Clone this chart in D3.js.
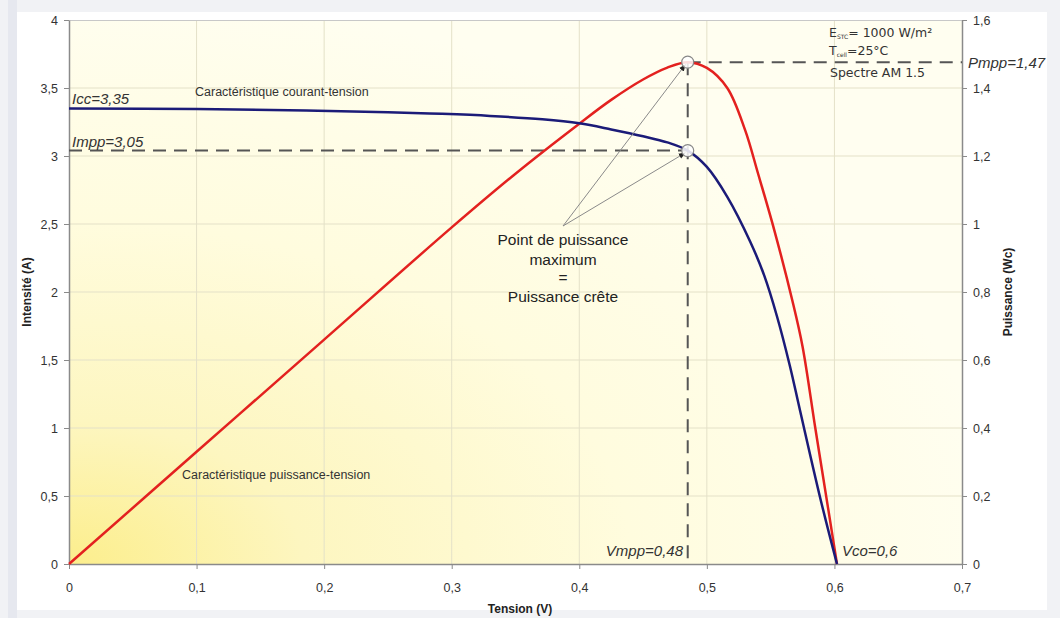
<!DOCTYPE html>
<html><head><meta charset="utf-8">
<script src="https://cdn.jsdelivr.net/npm/d3@7"></script>
<style>
html,body{margin:0;padding:0;background:#fff;}
svg{display:block;}
</style></head>
<body>
<svg id="c" width="1060" height="618"></svg>
<script>
// ---- data ----
const voltageIV = [0, 0.1, 0.186, 0.25, 0.292, 0.33, 0.371, 0.4, 0.425, 0.45, 0.469, 0.485, 0.5, 0.516, 0.534, 0.545, 0.555, 0.565, 0.573, 0.589, 0.602];
const currentIV = [3.35, 3.345, 3.335, 3.322, 3.31, 3.295, 3.27, 3.24, 3.195, 3.145, 3.10, 3.04, 2.92, 2.70, 2.37, 2.12, 1.82, 1.46, 1.13, 0.48, 0];
const voltagePV = [0, 0.1, 0.2, 0.3, 0.35, 0.4, 0.425, 0.45, 0.469, 0.485, 0.5, 0.516, 0.53, 0.54, 0.553, 0.567, 0.575, 0.585, 0.595, 0.602];
const powerPV   = [0, 0.33, 0.66, 0.99, 1.148, 1.295, 1.365, 1.425, 1.46, 1.476, 1.459, 1.40, 1.276, 1.15, 0.98, 0.775, 0.64, 0.40, 0.165, 0];
const xTicks = [0, 0.1, 0.2, 0.3, 0.4, 0.5, 0.6, 0.7];
const yTicksI = [0, 0.5, 1, 1.5, 2, 2.5, 3, 3.5, 4];
const yTicksP = [0, 0.2, 0.4, 0.6, 0.8, 1, 1.2, 1.4, 1.6];
const mppV = 0.485, mppI = 3.04, mppP = 1.476, vco = 0.602;
const labels = {icc:"Icc=3,35", impp:"Impp=3,05", pmpp:"Pmpp=1,47", vmpp:"Vmpp=0,48", vco:"Vco=0,6"};

const fmt = d => String(d).replace('.', ',');
const svg = d3.select('#c');
const X0 = 69, X1 = 962, Y0 = 564, Y1 = 20;
const x = d3.scaleLinear().domain([0, 0.7]).range([X0, X1]);
const yI = d3.scaleLinear().domain([0, 4]).range([Y0, Y1]);
const yP = d3.scaleLinear().domain([0, 1.6]).range([Y0, Y1]);
const AR = '"Liberation Sans", Arial, sans-serif';

// page frame
svg.append('rect').attr('width',1060).attr('height',618).attr('fill','#f1f2f5');
svg.append('rect').attr('x',8).attr('y',0).attr('width',9).attr('height',618).attr('fill','#e6e8ef');
svg.append('rect').attr('x',17).attr('y',12).attr('width',1030).attr('height',598).attr('fill','#ffffff');

const defs = svg.append('defs');
const rg = defs.append('radialGradient').attr('id','bg').attr('cx','0').attr('cy','1').attr('r','1.05').attr('fx','0').attr('fy','1');
rg.append('stop').attr('offset','0').attr('stop-color','#fcee8c');
rg.append('stop').attr('offset','0.25').attr('stop-color','#fdf6c0');
rg.append('stop').attr('offset','0.6').attr('stop-color','#fffcde');
rg.append('stop').attr('offset','1').attr('stop-color','#fffef0');
defs.append('marker').attr('id','arr').attr('viewBox','0 0 10 10').attr('refX',10).attr('refY',5)
  .attr('markerWidth',7).attr('markerHeight',7).attr('orient','auto')
  .append('path').attr('d','M0,1 L10,5 L0,9 z').attr('fill','#222');

svg.append('rect').attr('x',X0).attr('y',Y1).attr('width',X1-X0).attr('height',Y0-Y1).attr('fill','url(#bg)');

// grid
const g = svg.append('g');
g.selectAll('.vg').data(xTicks.slice(1,-1)).join('line')
  .attr('x1',d=>x(d)).attr('x2',d=>x(d)).attr('y1',Y1).attr('y2',Y0)
  .attr('stroke','#e4e1c8').attr('stroke-width',1);
g.selectAll('.hg').data(yTicksI.slice(1,-1)).join('line')
  .attr('x1',X0).attr('x2',X1).attr('y1',d=>yI(d)).attr('y2',d=>yI(d))
  .attr('stroke','#e4e1c8').attr('stroke-width',1);
svg.append('line').attr('x1',X0).attr('x2',X1).attr('y1',Y1+0.5).attr('y2',Y1+0.5).attr('stroke','#c8c8c8');

// axes
function styleAxis(sel){
  sel.select('.domain').attr('stroke','#8a8a8a').attr('stroke-width',1.5);
  sel.selectAll('.tick line').attr('stroke','#8a8a8a');
  sel.selectAll('.tick text').attr('fill','#333').attr('font-family',AR).attr('font-size',12.5);
}
svg.append('g').attr('transform',`translate(0,${Y0})`)
  .call(d3.axisBottom(x).tickValues(xTicks).tickFormat(fmt).tickSize(5).tickSizeOuter(0).tickPadding(14))
  .call(styleAxis);
svg.append('g').attr('transform',`translate(${X0},0)`)
  .call(d3.axisLeft(yI).tickValues(yTicksI).tickFormat(fmt).tickSize(5).tickSizeOuter(0).tickPadding(6))
  .call(styleAxis);
svg.append('g').attr('transform',`translate(${X1},0)`)
  .call(d3.axisRight(yP).tickValues(yTicksP).tickFormat(fmt).tickSize(5).tickSizeOuter(0).tickPadding(6))
  .call(styleAxis);

// axis titles
svg.append('text').attr('x',520).attr('y',613).attr('text-anchor','middle')
  .attr('font-family',AR).attr('font-weight','bold').attr('font-size',12).attr('fill','#222').text('Tension (V)');
svg.append('text').attr('transform','translate(31,292) rotate(-90)').attr('text-anchor','middle')
  .attr('font-family',AR).attr('font-weight','bold').attr('font-size',12).attr('fill','#222').text('Intensité (A)');
svg.append('text').attr('transform','translate(1012,292) rotate(-90)').attr('text-anchor','middle')
  .attr('font-family',AR).attr('font-weight','bold').attr('font-size',12).attr('fill','#222').text('Puissance (Wc)');

// dashed guides
const dash = {stroke:'#555', 'stroke-width':2, 'stroke-dasharray':'13,8'};
function dline(x1,y1,x2,y2){ const l=svg.append('line').attr('x1',x1).attr('y1',y1).attr('x2',x2).attr('y2',y2).attr('fill','none'); for(const k in dash) l.attr(k,dash[k]); }
dline(X0, yI(mppI), x(mppV), yI(mppI));
dline(x(mppV), yP(mppP), x(mppV), Y0);
dline(x(mppV), yP(mppP), X1, yP(mppP));

// curves
const ivData = voltageIV.map((v,i)=>[v,currentIV[i]]);
const pvData = voltagePV.map((v,i)=>[v,powerPV[i]]);
svg.append('path').datum(pvData).attr('fill','none').attr('stroke','#e3211f').attr('stroke-width',2.5)
  .attr('d', d3.line().x(d=>x(d[0])).y(d=>yP(d[1])).curve(d3.curveCatmullRom.alpha(0.5)));
svg.append('path').datum(ivData).attr('fill','none').attr('stroke','#1b1b78').attr('stroke-width',2.5)
  .attr('d', d3.line().x(d=>x(d[0])).y(d=>yI(d[1])).curve(d3.curveCatmullRom.alpha(0.5)));

// annotation arrows
const ax = 563, ay = 226;
[[x(mppV)-2, yP(mppP)+2],[x(mppV)-2, yI(mppI)+2]].forEach(p=>{
  svg.append('line').attr('x1',ax).attr('y1',ay).attr('x2',p[0]).attr('y2',p[1])
    .attr('stroke','#8a8a8a').attr('stroke-width',1).attr('marker-end','url(#arr)');
});
// mpp circles
[[x(mppV), yP(mppP)],[x(mppV), yI(mppI)]].forEach(p=>{
  svg.append('circle').attr('cx',p[0]).attr('cy',p[1]).attr('r',6)
    .attr('fill','#fff').attr('fill-opacity',0.85).attr('stroke','#888').attr('stroke-width',1.2);
});

// texts
function t(xp,yp,str,opt={}){
  return svg.append('text').attr('x',xp).attr('y',yp).attr('font-family',opt.ff||AR)
    .attr('font-size',opt.fs||12).attr('fill',opt.fill||'#333')
    .attr('font-style',opt.it?'italic':null).attr('text-anchor',opt.anchor||'start').text(str);
}
t(72,104,labels.icc,{fs:15,it:true});
t(72,147,labels.impp,{fs:15,it:true});
t(968,68,labels.pmpp,{fs:15,it:true});
t(683,556,labels.vmpp,{fs:15,it:true,anchor:'end'});
t(x(vco)+5,556,labels.vco,{fs:15,it:true});
t(195,96,'Caractéristique  courant-tension',{fs:12.5});
t(182,479,'Caractéristique  puissance-tension',{fs:12.5});
['Point de puissance','maximum','=','Puissance crête'].forEach((s,i)=>{
  t(563,[245,265,283,302][i],s,{fs:15.5,anchor:'middle',fill:'#222'});
});

// conditions box
const DV = '"DejaVu Sans", Verdana, sans-serif';
const e = t(829,37,'',{ff:DV,fs:12.5,fill:'#333'});
e.append('tspan').text('E');
e.append('tspan').attr('font-size',6).attr('dy',2).text('STC');
e.append('tspan').attr('dy',-2).text('= 1000 W/m²');
const tc = t(829,55,'',{ff:DV,fs:12.5,fill:'#333'});
tc.append('tspan').text('T');
tc.append('tspan').attr('font-size',6).attr('dy',2).text('cell');
tc.append('tspan').attr('dy',-2).text('=25°C');
t(830,77,'Spectre AM 1.5',{ff:DV,fs:12.5,fill:'#333'});
</script>
</body></html>
